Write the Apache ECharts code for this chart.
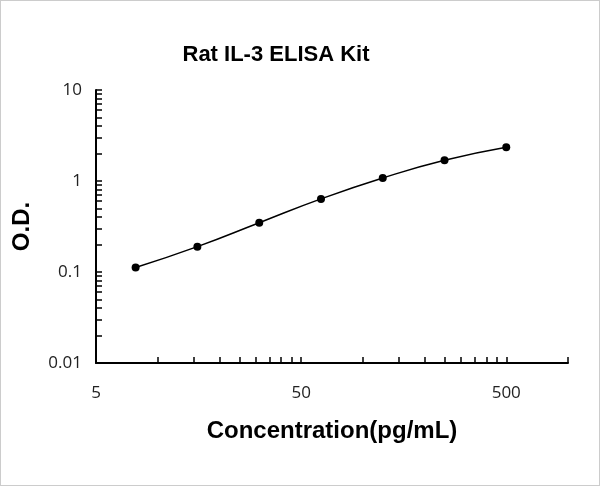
<!DOCTYPE html>
<html><head><meta charset="utf-8">
<script src="https://cdn.jsdelivr.net/npm/echarts@6/dist/echarts.min.js"></script>
<style>html,body{margin:0;padding:0;background:#fff}#c{width:600px;height:486px;box-sizing:border-box;border:1px solid #ccc}</style>
</head><body><div id="c"></div>
<script>
var concentrations = [7.8, 15.6, 31.25, 62.5, 125, 250, 500];
var odValues = [0.112, 0.19, 0.348, 0.636, 1.08, 1.69, 2.35];
var xLabels = [5, 50, 500];
var xTicks = [5,10,15,20,25,30,35,40,45,50,100,150,200,250,300,350,400,450,500,1000];
var yLabels = [0.01, 0.1, 1, 10];
var yTicks = [];
[0.01,0.1,1].forEach(function(d){for(var k=1;k<10;k++)yTicks.push(d*k);});
yTicks.push(10);
var L = Math.log10;
var chart = echarts.init(document.getElementById('c'));
chart.setOption({
  animation:false,
  title:{text:'Rat IL-3 ELISA Kit',left:270,top:38,textAlign:'center',textStyle:{fontFamily:'Arial, Liberation Sans',fontSize:22,fontWeight:'bold',color:'#000'}},
  grid:{left:95,right:31,top:89,bottom:122},
  xAxis:{type:'value',min:L(5),max:L(1000),name:'Concentration(pg/mL)',nameLocation:'middle',nameGap:56,
    nameTextStyle:{fontFamily:'Arial, Liberation Sans',fontSize:24,fontWeight:'bold',color:'#000'},
    axisLine:{onZero:false,lineStyle:{color:'#000',width:2}},splitLine:{show:false},
    axisTick:{inside:true,length:6,customValues:xTicks.map(L),lineStyle:{color:'#000',width:1.5}},
    axisLabel:{customValues:xLabels.map(L),margin:22,fontSize:17,color:'#222',fontFamily:'Open Sans, Liberation Sans',formatter:function(v){return String(Math.round(Math.pow(10,v)));}}},
  yAxis:{type:'value',min:-2,max:1,name:'O.D.',nameLocation:'middle',nameGap:62,
    nameTextStyle:{fontFamily:'Arial, Liberation Sans',fontSize:24,fontWeight:'bold',color:'#000'},
    axisLine:{show:true,onZero:false,lineStyle:{color:'#000',width:2}},splitLine:{show:false},
    axisTick:{inside:true,length:6,customValues:yTicks.map(L),lineStyle:{color:'#000',width:1.5}},
    axisLabel:{customValues:yLabels.map(L),margin:14,fontSize:17,color:'#222',fontFamily:'Open Sans, Liberation Sans',formatter:function(v){var n=Math.pow(10,Math.round(v));return String(parseFloat(n.toPrecision(1)));}}},
  series:[{type:'line',smooth:true,symbol:'circle',symbolSize:8,
    itemStyle:{color:'#000'},lineStyle:{color:'#000',width:1.5},
    data:concentrations.map(function(c,i){return [L(c),L(odValues[i])];})}]
});
</script></body></html>
